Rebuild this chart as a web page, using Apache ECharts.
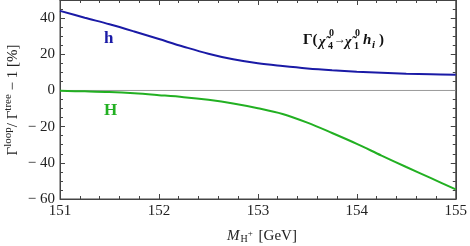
<!DOCTYPE html>
<html><head><meta charset="utf-8">
<script src="https://cdn.jsdelivr.net/npm/echarts@6/dist/echarts.min.js"></script>
<style>html,body{margin:0;padding:0;background:#fff}#c{width:470px;height:246px}</style>
</head><body><div id="c"></div>
<script>
var massValues = [151, 151.25, 151.5, 151.75, 152, 152.25, 152.5, 152.75, 153, 153.25, 153.5, 153.75, 154, 154.25, 154.5, 154.75, 155];
var hValues = [44.0, 40.2, 36.6, 32.6, 28.4, 24.2, 20.3, 17.2, 15.0, 13.5, 12.2, 11.2, 10.4, 9.8, 9.3, 9.0, 8.7];
var HValues = [-0.2, -0.5, -0.9, -1.6, -2.6, -3.7, -5.2, -7.2, -9.8, -13.0, -17.8, -23.5, -29.5, -36.0, -42.3, -48.5, -54.7];
var xTicks = [151, 152, 153, 154, 155];
var yTicks = [-60, -40, -20, 0, 20, 40];

var FONT = '"Liberation Serif", "DejaVu Serif", serif';
var AX = '#444';
function pairs(xs, ys){ return xs.map(function(x,i){ return [x, ys[i]]; }); }
function yFmt(v){ if (yTicks.indexOf(v) < 0) return ''; return v < 0 ? '\u2212 ' + Math.abs(v) : String(v); }

var chart = echarts.init(document.getElementById('c'), null, {renderer:'canvas'});
function baseX(pos){ return {type:'value', min:151, max:155, interval:1, gridIndex:0, position:pos,
  axisLine:{show:true, onZero:false, lineStyle:{color:AX, width:1}}, splitLine:{show:false},
  axisTick:{show:true, inside:true, length:5, lineStyle:{color:AX, width:1}},
  minorTick:{show:true, splitNumber:5, length:3, lineStyle:{color:AX, width:1}}}; }
function baseY(pos, iv, len){ return {type:'value', min:-60, max:50, interval:iv, gridIndex:0, position:pos,
  axisLine:{show:true, onZero:false, lineStyle:{color:AX, width:1}}, splitLine:{show:false},
  axisTick:{show:true, inside:true, length:len, lineStyle:{color:AX, width:1}},
  axisLabel:{show:false}}; }

var xBottom = baseX('bottom');
xBottom.axisLabel = {show:true, margin:5, color:'#222', fontFamily:FONT, fontSize:15};
var xTop = baseX('top'); xTop.axisLabel = {show:false};
var yLeft = baseY('left', 20, 5);
yLeft.axisLabel = {show:true, margin:5, color:'#222', fontFamily:FONT, fontSize:15, formatter:yFmt, showMaxLabel:false};

var option = {
  animation:false,
  grid:{left:60, right:13, top:0, bottom:47, containLabel:false, show:true, borderColor:AX, borderWidth:1, backgroundColor:'transparent'},
  xAxis:[xBottom, xTop],
  yAxis:[yLeft, baseY('left', 5, 3), baseY('right', 20, 5), baseY('right', 5, 3)],
  series:[
    {type:'line', name:'zero', data:[[151,0],[155,0]], xAxisIndex:0, yAxisIndex:0, symbol:'none',
      lineStyle:{color:'#999', width:1}, z:1, silent:true},
    {type:'line', name:'h', data:pairs(massValues, hValues), xAxisIndex:0, yAxisIndex:0, smooth:0.35,
      symbol:'none', lineStyle:{color:'#1a1aa6', width:2}, z:3},
    {type:'line', name:'H', data:pairs(massValues, HValues), xAxisIndex:0, yAxisIndex:0, smooth:0.35,
      symbol:'none', lineStyle:{color:'#22b022', width:2}, z:3}
  ],
  graphic:[
    {type:'text', left:104, top:30, style:{text:'h', fill:'#1a1aa6', font:'bold 17px ' + FONT}},
    {type:'text', left:104, top:102, style:{text:'H', fill:'#22b022', font:'bold 17px ' + FONT}},
    // process label
    {type:'text', x:303, y:40, style:{text:'\u0393(', fill:'#111', font:'bold 15px ' + FONT, verticalAlign:'middle'}},
    {type:'text', x:319, y:42, style:{text:'\u03C7\u0303', fill:'#111', font:'bold italic 14px ' + FONT, verticalAlign:'middle'}},
    {type:'text', x:329, y:33, style:{text:'0', fill:'#111', font:'bold 10px ' + FONT, verticalAlign:'middle'}},
    {type:'text', x:328, y:46, style:{text:'4', fill:'#111', font:'bold 10px ' + FONT, verticalAlign:'middle'}},
    {type:'text', x:334, y:40, style:{text:'\u2192', fill:'#111', font:'bold 12px ' + FONT, verticalAlign:'middle'}},
    {type:'text', x:345, y:42, style:{text:'\u03C7\u0303', fill:'#111', font:'bold italic 14px ' + FONT, verticalAlign:'middle'}},
    {type:'text', x:355, y:33, style:{text:'0', fill:'#111', font:'bold 10px ' + FONT, verticalAlign:'middle'}},
    {type:'text', x:354, y:46, style:{text:'1', fill:'#111', font:'bold 10px ' + FONT, verticalAlign:'middle'}},
    {type:'text', x:363, y:40, style:{text:'h', fill:'#111', font:'bold italic 15px ' + FONT, verticalAlign:'middle'}},
    {type:'text', x:372, y:45, style:{text:'i', fill:'#111', font:'bold italic 11px ' + FONT, verticalAlign:'middle'}},
    {type:'text', x:379, y:40, style:{text:')', fill:'#111', font:'bold 15px ' + FONT, verticalAlign:'middle'}},
    // x axis title
    {type:'text', x:262, y:236, style:{
      text:'{it|M}{sub|H}{sup|+} [GeV]', align:'center', verticalAlign:'middle', fill:'#222',
      font:'15px ' + FONT,
      rich:{it:{fontFamily:FONT, fontStyle:'italic', fontSize:15},
            sub:{fontFamily:FONT, fontSize:10, padding:[6,0,0,1]},
            sup:{fontFamily:FONT, fontSize:9, padding:[0,2,4,0]}}}},
    // y axis title
    {type:'text', x:13, y:100, rotation:Math.PI/2, style:{
      text:'\u0393{sup|loop}/ \u0393{sup|tree} \u2212 1 [%]', align:'center', verticalAlign:'middle', fill:'#222',
      font:'15px ' + FONT,
      rich:{sup:{fontFamily:FONT, fontSize:11, padding:[0,0,9,0]}}}}
  ]
};
chart.setOption(option);
</script></body></html>
